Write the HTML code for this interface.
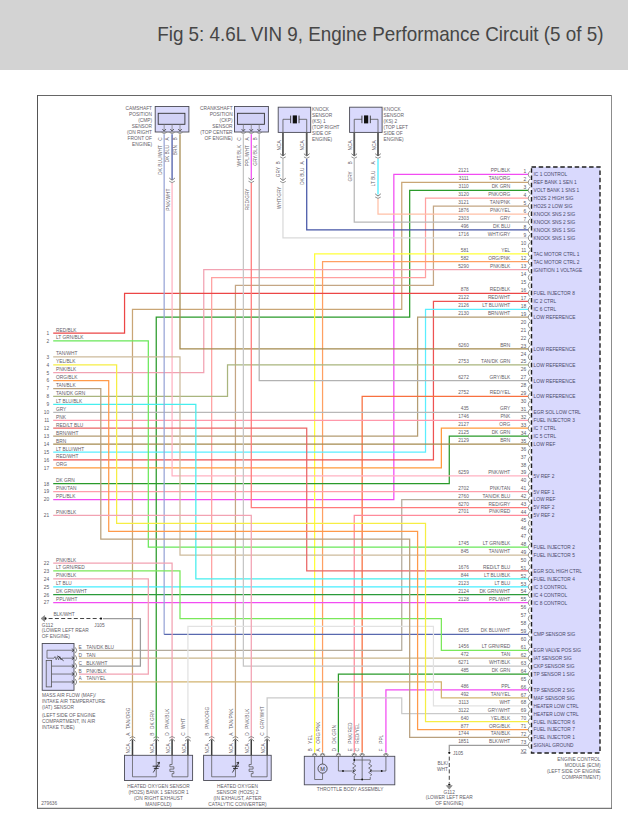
<!DOCTYPE html>
<html><head><meta charset="utf-8"><title>Fig 5: 4.6L VIN 9, Engine Performance Circuit (5 of 5)</title>
<style>html,body{margin:0;padding:0;background:#fff;width:628px;height:820px;overflow:hidden}
svg{display:block;font-family:"Liberation Sans",Arial,sans-serif}</style></head>
<body>
<svg width="628" height="820" viewBox="0 0 628 820">
<rect x="0" y="0" width="628" height="820" fill="#ffffff"/>
<rect x="0" y="0" width="628" height="70" fill="#d3d3d3"/>
<text x="157.2" y="41" font-size="20.4" fill="#464646" textLength="446.3" lengthAdjust="spacingAndGlyphs" font-family="Liberation Sans, sans-serif">Fig 5: 4.6L VIN 9, Engine Performance Circuit (5 of 5)</text>
<path d="M37.5,95.5 H611.5" stroke="#666" stroke-width="1"/>
<path d="M37.5,95 V808.5" stroke="#555" stroke-width="1"/>
<path d="M611.5,95 V808.5" stroke="#8c8c8c" stroke-width="1"/>
<path d="M37,808.3 H612" stroke="#555" stroke-width="1"/>
<rect x="531.5" y="167" width="68.5" height="586" fill="#d9d9fd" stroke="#1e1e1e" stroke-width="1.4" stroke-dasharray="4.5,2.7"/>
<g fill="none" stroke-width="1.25" stroke-linejoin="miter">
<polyline points="528,174.45 393.84,174.45 393.84,499.58 53.2,499.58" stroke="#f24cf2"/>
<polyline points="528,182.38 401.76,182.38 401.76,309.26 132.48,309.26 132.48,738.7" stroke="#c9a676"/>
<polyline points="528,190.31 409.68,190.31 409.68,317.19 156.24,317.19 156.24,738.7" stroke="#2a9a2a"/>
<polyline points="528,198.24 425.52,198.24 425.52,277.54 211.68,277.54 211.68,738.7" stroke="#ffa0a0"/>
<polyline points="528,206.17 433.44,206.17 433.44,285.47 235.44,285.47 235.44,738.7" stroke="#c4a684"/>
<polyline points="528,214.1 378,214.1 378,198.6" stroke="#ffc0a6"/>
<polyline points="378,194.5 378,158.8" stroke="#46eeff"/>
<polyline points="528,222.03 354.24,222.03 354.24,158.8" stroke="#b8b8b8"/>
<polyline points="528,229.96 306.72,229.96 306.72,158.8" stroke="#4656a6"/>
<polyline points="528,237.89 282.96,237.89 282.96,183.2" stroke="#dadada"/>
<polyline points="282.96,180.5 282.96,158.8" stroke="#b8b8b8"/>
<polyline points="528,253.75 314.64,253.75 314.64,752.5" stroke="#ffff3a"/>
<polyline points="528,261.68 322.56,261.68 322.56,752.5" stroke="#ffa062"/>
<polyline points="528,269.61 203.76,269.61 203.76,372.7 53.2,372.7" stroke="#f2a2b2"/>
<polyline points="528,293.4 124.56,293.4 124.56,333.05 53.2,333.05" stroke="#ec4646"/>
<polyline points="528,301.33 433.44,301.33 433.44,459.93 53.2,459.93" stroke="#ee5252"/>
<polyline points="528,309.26 425.52,309.26 425.52,452 53.2,452" stroke="#5aeeff"/>
<polyline points="528,317.19 417.6,317.19 417.6,436.14 53.2,436.14" stroke="#b49c72"/>
<polyline points="528,348.91 180,348.91 180,134.2" stroke="#a48a4e"/>
<polyline points="528,364.77 227.52,364.77 227.52,396.49 53.2,396.49" stroke="#a9b57e"/>
<polyline points="528,380.63 259.2,380.63 259.2,134.2" stroke="#b2b2b2"/>
<polyline points="528,396.49 362.16,396.49 362.16,752.5" stroke="#f8703f"/>
<polyline points="528,412.35 53.2,412.35" stroke="#b8b8b8"/>
<polyline points="528,420.28 53.2,420.28" stroke="#ff98aa"/>
<polyline points="528,428.21 441.36,428.21 441.36,467.86 53.2,467.86" stroke="#ff9a3c"/>
<polyline points="528,436.14 449.28,436.14 449.28,483.72 53.2,483.72" stroke="#2a9a2a"/>
<polyline points="528,444.07 53.2,444.07" stroke="#a48a4e"/>
<polyline points="528,475.79 172.08,475.79 172.08,182.4" stroke="#ffb2c2"/>
<polyline points="172.08,179.8 172.08,134.2" stroke="#4656a6"/>
<polyline points="528,491.65 53.2,491.65" stroke="#ff9eac"/>
<polyline points="528,499.58 401.76,499.58 401.76,650.25 79,650.25" stroke="#b3ab9c"/>
<polyline points="528,507.51 251.28,507.51 251.28,182.4" stroke="#ff7a7a"/>
<polyline points="251.28,179.8 251.28,134.2" stroke="#f24cf2"/>
<polyline points="528,515.44 354.24,515.44 354.24,752.5" stroke="#ff8a9a"/>
<polyline points="528,547.16 148.32,547.16 148.32,340.98 53.2,340.98" stroke="#6ae85a"/>
<polyline points="528,555.09 180,555.09 180,356.84 53.2,356.84" stroke="#cdbb9c"/>
<polyline points="528,570.95 306.72,570.95 306.72,428.21 53.2,428.21" stroke="#ea6666"/>
<polyline points="528,578.88 195.84,578.88 195.84,404.42 53.2,404.42" stroke="#46eeee"/>
<polyline points="528,586.81 53.2,586.81" stroke="#46eeff"/>
<polyline points="528,594.74 53.2,594.74" stroke="#2a9a3a"/>
<polyline points="528,602.67 53.2,602.67" stroke="#f24cf2"/>
<polyline points="164.16,634.39 164.16,134.2" stroke="#98a4d6"/>
<polyline points="528,634.39 164.16,634.39" stroke="#5868ae"/>
<polyline points="528,650.25 441.36,650.25 441.36,618.53 180,618.53 180,570.95 53.2,570.95" stroke="#7ae85a"/>
<polyline points="528,658.18 79,658.18" stroke="#cab68c"/>
<polyline points="528,666.11 243.36,666.11 243.36,134.2" stroke="#c6c6c6"/>
<polyline points="528,674.04 338.4,674.04 338.4,752.5" stroke="#2a9a2a"/>
<polyline points="528,689.9 385.92,689.9 385.92,752.5" stroke="#f24cf2"/>
<polyline points="528,697.83 441.36,697.83 441.36,681.97 79,681.97" stroke="#d2b470"/>
<polyline points="528,705.76 433.44,705.76 433.44,626.46 187.92,626.46 187.92,738.7" stroke="#e2e2e2"/>
<polyline points="528,713.69 401.76,713.69 401.76,697.83 267.12,697.83 267.12,738.7" stroke="#cacaca"/>
<polyline points="528,721.62 425.52,721.62 425.52,523.37 116.64,523.37 116.64,364.77 53.2,364.77" stroke="#f6ee44"/>
<polyline points="528,729.55 417.6,729.55 417.6,531.3 108.72,531.3 108.72,380.63 53.2,380.63" stroke="#ff9a4a"/>
<polyline points="528,737.48 409.68,737.48 409.68,539.23 100.8,539.23 100.8,388.56 53.2,388.56" stroke="#b8a07e"/>
<polyline points="528,745.41 449.28,745.41 449.28,751.5" stroke="#9c9c9c"/>
<polyline points="53.2,515.44 251.28,515.44 251.28,738.7" stroke="#f2a2b2"/>
<polyline points="53.2,563.02 172.08,563.02 172.08,738.7" stroke="#f2a2b2"/>
<polyline points="53.2,578.88 148.32,578.88 148.32,674.04 79,674.04" stroke="#f2a2b2"/>
<polyline points="103,618.53 140.4,618.53 140.4,666.11 79,666.11" stroke="#9c9c9c"/>
</g>
<g fill="none" stroke="#767676" stroke-width="0.8">
<path d="M530.2,171.05 Q526.4,174.45 530.2,177.85"/>
<path d="M530.2,178.98 Q526.4,182.38 530.2,185.78"/>
<path d="M530.2,186.91 Q526.4,190.31 530.2,193.71"/>
<path d="M530.2,194.84 Q526.4,198.24 530.2,201.64"/>
<path d="M530.2,202.77 Q526.4,206.17 530.2,209.57"/>
<path d="M530.2,210.7 Q526.4,214.1 530.2,217.5"/>
<path d="M530.2,218.63 Q526.4,222.03 530.2,225.43"/>
<path d="M530.2,226.56 Q526.4,229.96 530.2,233.36"/>
<path d="M530.2,234.49 Q526.4,237.89 530.2,241.29"/>
<path d="M530.2,242.42 Q526.4,245.82 530.2,249.22"/>
<path d="M530.2,250.35 Q526.4,253.75 530.2,257.15"/>
<path d="M530.2,258.28 Q526.4,261.68 530.2,265.08"/>
<path d="M530.2,266.21 Q526.4,269.61 530.2,273.01"/>
<path d="M530.2,274.14 Q526.4,277.54 530.2,280.94"/>
<path d="M530.2,282.07 Q526.4,285.47 530.2,288.87"/>
<path d="M530.2,290 Q526.4,293.4 530.2,296.8"/>
<path d="M530.2,297.93 Q526.4,301.33 530.2,304.73"/>
<path d="M530.2,305.86 Q526.4,309.26 530.2,312.66"/>
<path d="M530.2,313.79 Q526.4,317.19 530.2,320.59"/>
<path d="M530.2,321.72 Q526.4,325.12 530.2,328.52"/>
<path d="M530.2,329.65 Q526.4,333.05 530.2,336.45"/>
<path d="M530.2,337.58 Q526.4,340.98 530.2,344.38"/>
<path d="M530.2,345.51 Q526.4,348.91 530.2,352.31"/>
<path d="M530.2,353.44 Q526.4,356.84 530.2,360.24"/>
<path d="M530.2,361.37 Q526.4,364.77 530.2,368.17"/>
<path d="M530.2,369.3 Q526.4,372.7 530.2,376.1"/>
<path d="M530.2,377.23 Q526.4,380.63 530.2,384.03"/>
<path d="M530.2,385.16 Q526.4,388.56 530.2,391.96"/>
<path d="M530.2,393.09 Q526.4,396.49 530.2,399.89"/>
<path d="M530.2,401.02 Q526.4,404.42 530.2,407.82"/>
<path d="M530.2,408.95 Q526.4,412.35 530.2,415.75"/>
<path d="M530.2,416.88 Q526.4,420.28 530.2,423.68"/>
<path d="M530.2,424.81 Q526.4,428.21 530.2,431.61"/>
<path d="M530.2,432.74 Q526.4,436.14 530.2,439.54"/>
<path d="M530.2,440.67 Q526.4,444.07 530.2,447.47"/>
<path d="M530.2,448.6 Q526.4,452 530.2,455.4"/>
<path d="M530.2,456.53 Q526.4,459.93 530.2,463.33"/>
<path d="M530.2,464.46 Q526.4,467.86 530.2,471.26"/>
<path d="M530.2,472.39 Q526.4,475.79 530.2,479.19"/>
<path d="M530.2,480.32 Q526.4,483.72 530.2,487.12"/>
<path d="M530.2,488.25 Q526.4,491.65 530.2,495.05"/>
<path d="M530.2,496.18 Q526.4,499.58 530.2,502.98"/>
<path d="M530.2,504.11 Q526.4,507.51 530.2,510.91"/>
<path d="M530.2,512.04 Q526.4,515.44 530.2,518.84"/>
<path d="M530.2,519.97 Q526.4,523.37 530.2,526.77"/>
<path d="M530.2,527.9 Q526.4,531.3 530.2,534.7"/>
<path d="M530.2,535.83 Q526.4,539.23 530.2,542.63"/>
<path d="M530.2,543.76 Q526.4,547.16 530.2,550.56"/>
<path d="M530.2,551.69 Q526.4,555.09 530.2,558.49"/>
<path d="M530.2,559.62 Q526.4,563.02 530.2,566.42"/>
<path d="M530.2,567.55 Q526.4,570.95 530.2,574.35"/>
<path d="M530.2,575.48 Q526.4,578.88 530.2,582.28"/>
<path d="M530.2,583.41 Q526.4,586.81 530.2,590.21"/>
<path d="M530.2,591.34 Q526.4,594.74 530.2,598.14"/>
<path d="M530.2,599.27 Q526.4,602.67 530.2,606.07"/>
<path d="M530.2,607.2 Q526.4,610.6 530.2,614"/>
<path d="M530.2,615.13 Q526.4,618.53 530.2,621.93"/>
<path d="M530.2,623.06 Q526.4,626.46 530.2,629.86"/>
<path d="M530.2,630.99 Q526.4,634.39 530.2,637.79"/>
<path d="M530.2,638.92 Q526.4,642.32 530.2,645.72"/>
<path d="M530.2,646.85 Q526.4,650.25 530.2,653.65"/>
<path d="M530.2,654.78 Q526.4,658.18 530.2,661.58"/>
<path d="M530.2,662.71 Q526.4,666.11 530.2,669.51"/>
<path d="M530.2,670.64 Q526.4,674.04 530.2,677.44"/>
<path d="M530.2,678.57 Q526.4,681.97 530.2,685.37"/>
<path d="M530.2,686.5 Q526.4,689.9 530.2,693.3"/>
<path d="M530.2,694.43 Q526.4,697.83 530.2,701.23"/>
<path d="M530.2,702.36 Q526.4,705.76 530.2,709.16"/>
<path d="M530.2,710.29 Q526.4,713.69 530.2,717.09"/>
<path d="M530.2,718.22 Q526.4,721.62 530.2,725.02"/>
<path d="M530.2,726.15 Q526.4,729.55 530.2,732.95"/>
<path d="M530.2,734.08 Q526.4,737.48 530.2,740.88"/>
<path d="M530.2,742.01 Q526.4,745.41 530.2,748.81"/>
</g>
<g font-family="Liberation Sans, sans-serif">
<text x="526.3" y="173.15" font-size="4.9" text-anchor="end" fill="#5a5a66">1</text>
<text x="468.8" y="172.45" font-size="4.8" text-anchor="end" fill="#646068">2121</text>
<text x="510.3" y="172.45" font-size="4.8" text-anchor="end" fill="#646068">PPL/BLK</text>
<text x="533.5" y="176.35" font-size="4.8" text-anchor="start" fill="#4a4a6a">IC 1 CONTROL</text>
<text x="526.3" y="181.08" font-size="4.9" text-anchor="end" fill="#5a5a66">2</text>
<text x="468.8" y="180.38" font-size="4.8" text-anchor="end" fill="#646068">3111</text>
<text x="510.3" y="180.38" font-size="4.8" text-anchor="end" fill="#646068">TAN/ORG</text>
<text x="533.5" y="184.28" font-size="4.8" text-anchor="start" fill="#4a4a6a">REF BANK 1 SEN 1</text>
<text x="526.3" y="189.01" font-size="4.9" text-anchor="end" fill="#5a5a66">3</text>
<text x="468.8" y="188.31" font-size="4.8" text-anchor="end" fill="#646068">3110</text>
<text x="510.3" y="188.31" font-size="4.8" text-anchor="end" fill="#646068">DK GRN</text>
<text x="533.5" y="192.21" font-size="4.8" text-anchor="start" fill="#4a4a6a">VOLT BANK 1 SNS 1</text>
<text x="526.3" y="196.94" font-size="4.9" text-anchor="end" fill="#5a5a66">4</text>
<text x="468.8" y="196.24" font-size="4.8" text-anchor="end" fill="#646068">3120</text>
<text x="510.3" y="196.24" font-size="4.8" text-anchor="end" fill="#646068">PNK/ORG</text>
<text x="533.5" y="200.14" font-size="4.8" text-anchor="start" fill="#4a4a6a">HO2S 2 HIGH SIG</text>
<text x="526.3" y="204.87" font-size="4.9" text-anchor="end" fill="#5a5a66">5</text>
<text x="468.8" y="204.17" font-size="4.8" text-anchor="end" fill="#646068">3121</text>
<text x="510.3" y="204.17" font-size="4.8" text-anchor="end" fill="#646068">TAN/PNK</text>
<text x="533.5" y="208.07" font-size="4.8" text-anchor="start" fill="#4a4a6a">HO2S 2 LOW SIG</text>
<text x="526.3" y="212.8" font-size="4.9" text-anchor="end" fill="#5a5a66">6</text>
<text x="468.8" y="212.1" font-size="4.8" text-anchor="end" fill="#646068">1876</text>
<text x="510.3" y="212.1" font-size="4.8" text-anchor="end" fill="#646068">PNK/YEL</text>
<text x="533.5" y="216" font-size="4.8" text-anchor="start" fill="#4a4a6a">KNOCK SNS 2 SIG</text>
<text x="526.3" y="220.73" font-size="4.9" text-anchor="end" fill="#5a5a66">7</text>
<text x="468.8" y="220.03" font-size="4.8" text-anchor="end" fill="#646068">2303</text>
<text x="510.3" y="220.03" font-size="4.8" text-anchor="end" fill="#646068">GRY</text>
<text x="533.5" y="223.93" font-size="4.8" text-anchor="start" fill="#4a4a6a">KNOCK SNS 2 SIG</text>
<text x="526.3" y="228.66" font-size="4.9" text-anchor="end" fill="#5a5a66">8</text>
<text x="468.8" y="227.96" font-size="4.8" text-anchor="end" fill="#646068">496</text>
<text x="510.3" y="227.96" font-size="4.8" text-anchor="end" fill="#646068">DK BLU</text>
<text x="533.5" y="231.86" font-size="4.8" text-anchor="start" fill="#4a4a6a">KNOCK SNS 1 SIG</text>
<text x="526.3" y="236.59" font-size="4.9" text-anchor="end" fill="#5a5a66">9</text>
<text x="468.8" y="235.89" font-size="4.8" text-anchor="end" fill="#646068">1716</text>
<text x="510.3" y="235.89" font-size="4.8" text-anchor="end" fill="#646068">WHT/GRY</text>
<text x="533.5" y="239.79" font-size="4.8" text-anchor="start" fill="#4a4a6a">KNOCK SNS 1 SIG</text>
<text x="526.3" y="244.52" font-size="4.9" text-anchor="end" fill="#5a5a66">10</text>
<text x="526.3" y="252.45" font-size="4.9" text-anchor="end" fill="#5a5a66">11</text>
<text x="468.8" y="251.75" font-size="4.8" text-anchor="end" fill="#646068">581</text>
<text x="510.3" y="251.75" font-size="4.8" text-anchor="end" fill="#646068">YEL</text>
<text x="533.5" y="255.65" font-size="4.8" text-anchor="start" fill="#4a4a6a">TAC MOTOR CTRL 1</text>
<text x="526.3" y="260.38" font-size="4.9" text-anchor="end" fill="#5a5a66">12</text>
<text x="468.8" y="259.68" font-size="4.8" text-anchor="end" fill="#646068">582</text>
<text x="510.3" y="259.68" font-size="4.8" text-anchor="end" fill="#646068">ORG/PNK</text>
<text x="533.5" y="263.58" font-size="4.8" text-anchor="start" fill="#4a4a6a">TAC MOTOR CTRL 2</text>
<text x="526.3" y="268.31" font-size="4.9" text-anchor="end" fill="#5a5a66">13</text>
<text x="468.8" y="267.61" font-size="4.8" text-anchor="end" fill="#646068">5290</text>
<text x="510.3" y="267.61" font-size="4.8" text-anchor="end" fill="#646068">PNK/BLK</text>
<text x="533.5" y="271.51" font-size="4.8" text-anchor="start" fill="#4a4a6a">IGNITION 1 VOLTAGE</text>
<text x="526.3" y="276.24" font-size="4.9" text-anchor="end" fill="#5a5a66">14</text>
<text x="526.3" y="284.17" font-size="4.9" text-anchor="end" fill="#5a5a66">15</text>
<text x="526.3" y="292.1" font-size="4.9" text-anchor="end" fill="#5a5a66">16</text>
<text x="468.8" y="291.4" font-size="4.8" text-anchor="end" fill="#646068">878</text>
<text x="510.3" y="291.4" font-size="4.8" text-anchor="end" fill="#646068">RED/BLK</text>
<text x="533.5" y="295.3" font-size="4.8" text-anchor="start" fill="#4a4a6a">FUEL INJECTOR 8</text>
<text x="526.3" y="300.03" font-size="4.9" text-anchor="end" fill="#5a5a66">17</text>
<text x="468.8" y="299.33" font-size="4.8" text-anchor="end" fill="#646068">2122</text>
<text x="510.3" y="299.33" font-size="4.8" text-anchor="end" fill="#646068">RED/WHT</text>
<text x="533.5" y="303.23" font-size="4.8" text-anchor="start" fill="#4a4a6a">IC 2 CTRL</text>
<text x="526.3" y="307.96" font-size="4.9" text-anchor="end" fill="#5a5a66">18</text>
<text x="468.8" y="307.26" font-size="4.8" text-anchor="end" fill="#646068">2126</text>
<text x="510.3" y="307.26" font-size="4.8" text-anchor="end" fill="#646068">LT BLU/WHT</text>
<text x="533.5" y="311.16" font-size="4.8" text-anchor="start" fill="#4a4a6a">IC 6 CTRL</text>
<text x="526.3" y="315.89" font-size="4.9" text-anchor="end" fill="#5a5a66">19</text>
<text x="468.8" y="315.19" font-size="4.8" text-anchor="end" fill="#646068">2130</text>
<text x="510.3" y="315.19" font-size="4.8" text-anchor="end" fill="#646068">BRN/WHT</text>
<text x="533.5" y="319.09" font-size="4.8" text-anchor="start" fill="#4a4a6a">LOW REFERENCE</text>
<text x="526.3" y="323.82" font-size="4.9" text-anchor="end" fill="#5a5a66">20</text>
<text x="526.3" y="331.75" font-size="4.9" text-anchor="end" fill="#5a5a66">21</text>
<text x="526.3" y="339.68" font-size="4.9" text-anchor="end" fill="#5a5a66">22</text>
<text x="526.3" y="347.61" font-size="4.9" text-anchor="end" fill="#5a5a66">23</text>
<text x="468.8" y="346.91" font-size="4.8" text-anchor="end" fill="#646068">6260</text>
<text x="510.3" y="346.91" font-size="4.8" text-anchor="end" fill="#646068">BRN</text>
<text x="533.5" y="350.81" font-size="4.8" text-anchor="start" fill="#4a4a6a">LOW REFERENCE</text>
<text x="526.3" y="355.54" font-size="4.9" text-anchor="end" fill="#5a5a66">24</text>
<text x="526.3" y="363.47" font-size="4.9" text-anchor="end" fill="#5a5a66">25</text>
<text x="468.8" y="362.77" font-size="4.8" text-anchor="end" fill="#646068">2753</text>
<text x="510.3" y="362.77" font-size="4.8" text-anchor="end" fill="#646068">TAN/DK GRN</text>
<text x="533.5" y="366.67" font-size="4.8" text-anchor="start" fill="#4a4a6a">LOW REFERENCE</text>
<text x="526.3" y="371.4" font-size="4.9" text-anchor="end" fill="#5a5a66">26</text>
<text x="526.3" y="379.33" font-size="4.9" text-anchor="end" fill="#5a5a66">27</text>
<text x="468.8" y="378.63" font-size="4.8" text-anchor="end" fill="#646068">6272</text>
<text x="510.3" y="378.63" font-size="4.8" text-anchor="end" fill="#646068">GRY/BLK</text>
<text x="533.5" y="382.53" font-size="4.8" text-anchor="start" fill="#4a4a6a">LOW REFERENCE</text>
<text x="526.3" y="387.26" font-size="4.9" text-anchor="end" fill="#5a5a66">28</text>
<text x="526.3" y="395.19" font-size="4.9" text-anchor="end" fill="#5a5a66">29</text>
<text x="468.8" y="394.49" font-size="4.8" text-anchor="end" fill="#646068">2752</text>
<text x="510.3" y="394.49" font-size="4.8" text-anchor="end" fill="#646068">RED/YEL</text>
<text x="533.5" y="398.39" font-size="4.8" text-anchor="start" fill="#4a4a6a">LOW REFERENCE</text>
<text x="526.3" y="403.12" font-size="4.9" text-anchor="end" fill="#5a5a66">30</text>
<text x="526.3" y="411.05" font-size="4.9" text-anchor="end" fill="#5a5a66">31</text>
<text x="468.8" y="410.35" font-size="4.8" text-anchor="end" fill="#646068">435</text>
<text x="510.3" y="410.35" font-size="4.8" text-anchor="end" fill="#646068">GRY</text>
<text x="533.5" y="414.25" font-size="4.8" text-anchor="start" fill="#4a4a6a">EGR SOL LOW CTRL</text>
<text x="526.3" y="418.98" font-size="4.9" text-anchor="end" fill="#5a5a66">32</text>
<text x="468.8" y="418.28" font-size="4.8" text-anchor="end" fill="#646068">1746</text>
<text x="510.3" y="418.28" font-size="4.8" text-anchor="end" fill="#646068">PNK</text>
<text x="533.5" y="422.18" font-size="4.8" text-anchor="start" fill="#4a4a6a">FUEL INJECTOR 3</text>
<text x="526.3" y="426.91" font-size="4.9" text-anchor="end" fill="#5a5a66">33</text>
<text x="468.8" y="426.21" font-size="4.8" text-anchor="end" fill="#646068">2127</text>
<text x="510.3" y="426.21" font-size="4.8" text-anchor="end" fill="#646068">ORG</text>
<text x="533.5" y="430.11" font-size="4.8" text-anchor="start" fill="#4a4a6a">IC 7 CTRL</text>
<text x="526.3" y="434.84" font-size="4.9" text-anchor="end" fill="#5a5a66">34</text>
<text x="468.8" y="434.14" font-size="4.8" text-anchor="end" fill="#646068">2125</text>
<text x="510.3" y="434.14" font-size="4.8" text-anchor="end" fill="#646068">DK GRN</text>
<text x="533.5" y="438.04" font-size="4.8" text-anchor="start" fill="#4a4a6a">IC 5 CTRL</text>
<text x="526.3" y="442.77" font-size="4.9" text-anchor="end" fill="#5a5a66">35</text>
<text x="468.8" y="442.07" font-size="4.8" text-anchor="end" fill="#646068">2129</text>
<text x="510.3" y="442.07" font-size="4.8" text-anchor="end" fill="#646068">BRN</text>
<text x="533.5" y="445.97" font-size="4.8" text-anchor="start" fill="#4a4a6a">LOW REF</text>
<text x="526.3" y="450.7" font-size="4.9" text-anchor="end" fill="#5a5a66">36</text>
<text x="526.3" y="458.63" font-size="4.9" text-anchor="end" fill="#5a5a66">37</text>
<text x="526.3" y="466.56" font-size="4.9" text-anchor="end" fill="#5a5a66">38</text>
<text x="526.3" y="474.49" font-size="4.9" text-anchor="end" fill="#5a5a66">39</text>
<text x="468.8" y="473.79" font-size="4.8" text-anchor="end" fill="#646068">6259</text>
<text x="510.3" y="473.79" font-size="4.8" text-anchor="end" fill="#646068">PNK/WHT</text>
<text x="533.5" y="477.69" font-size="4.8" text-anchor="start" fill="#4a4a6a">5V REF 2</text>
<text x="526.3" y="482.42" font-size="4.9" text-anchor="end" fill="#5a5a66">40</text>
<text x="526.3" y="490.35" font-size="4.9" text-anchor="end" fill="#5a5a66">41</text>
<text x="468.8" y="489.65" font-size="4.8" text-anchor="end" fill="#646068">2702</text>
<text x="510.3" y="489.65" font-size="4.8" text-anchor="end" fill="#646068">PNK/TAN</text>
<text x="533.5" y="493.55" font-size="4.8" text-anchor="start" fill="#4a4a6a">5V REF 1</text>
<text x="526.3" y="498.28" font-size="4.9" text-anchor="end" fill="#5a5a66">42</text>
<text x="468.8" y="497.58" font-size="4.8" text-anchor="end" fill="#646068">2760</text>
<text x="510.3" y="497.58" font-size="4.8" text-anchor="end" fill="#646068">TAN/DK BLU</text>
<text x="533.5" y="501.48" font-size="4.8" text-anchor="start" fill="#4a4a6a">LOW REF</text>
<text x="526.3" y="506.21" font-size="4.9" text-anchor="end" fill="#5a5a66">43</text>
<text x="468.8" y="505.51" font-size="4.8" text-anchor="end" fill="#646068">6270</text>
<text x="510.3" y="505.51" font-size="4.8" text-anchor="end" fill="#646068">RED/GRY</text>
<text x="533.5" y="509.41" font-size="4.8" text-anchor="start" fill="#4a4a6a">5V REF 2</text>
<text x="526.3" y="514.14" font-size="4.9" text-anchor="end" fill="#5a5a66">44</text>
<text x="468.8" y="513.44" font-size="4.8" text-anchor="end" fill="#646068">2701</text>
<text x="510.3" y="513.44" font-size="4.8" text-anchor="end" fill="#646068">PNK/RED</text>
<text x="533.5" y="517.34" font-size="4.8" text-anchor="start" fill="#4a4a6a">5V REF 2</text>
<text x="526.3" y="522.07" font-size="4.9" text-anchor="end" fill="#5a5a66">45</text>
<text x="526.3" y="530" font-size="4.9" text-anchor="end" fill="#5a5a66">46</text>
<text x="526.3" y="537.93" font-size="4.9" text-anchor="end" fill="#5a5a66">47</text>
<text x="526.3" y="545.86" font-size="4.9" text-anchor="end" fill="#5a5a66">48</text>
<text x="468.8" y="545.16" font-size="4.8" text-anchor="end" fill="#646068">1745</text>
<text x="510.3" y="545.16" font-size="4.8" text-anchor="end" fill="#646068">LT GRN/BLK</text>
<text x="533.5" y="549.06" font-size="4.8" text-anchor="start" fill="#4a4a6a">FUEL INJECTOR 2</text>
<text x="526.3" y="553.79" font-size="4.9" text-anchor="end" fill="#5a5a66">49</text>
<text x="468.8" y="553.09" font-size="4.8" text-anchor="end" fill="#646068">845</text>
<text x="510.3" y="553.09" font-size="4.8" text-anchor="end" fill="#646068">TAN/WHT</text>
<text x="533.5" y="556.99" font-size="4.8" text-anchor="start" fill="#4a4a6a">FUEL INJECTOR 5</text>
<text x="526.3" y="561.72" font-size="4.9" text-anchor="end" fill="#5a5a66">50</text>
<text x="526.3" y="569.65" font-size="4.9" text-anchor="end" fill="#5a5a66">51</text>
<text x="468.8" y="568.95" font-size="4.8" text-anchor="end" fill="#646068">1676</text>
<text x="510.3" y="568.95" font-size="4.8" text-anchor="end" fill="#646068">RED/LT BLU</text>
<text x="533.5" y="572.85" font-size="4.8" text-anchor="start" fill="#4a4a6a">EGR SOL HIGH CTRL</text>
<text x="526.3" y="577.58" font-size="4.9" text-anchor="end" fill="#5a5a66">52</text>
<text x="468.8" y="576.88" font-size="4.8" text-anchor="end" fill="#646068">844</text>
<text x="510.3" y="576.88" font-size="4.8" text-anchor="end" fill="#646068">LT BLU/BLK</text>
<text x="533.5" y="580.78" font-size="4.8" text-anchor="start" fill="#4a4a6a">FUEL INJECTOR 4</text>
<text x="526.3" y="585.51" font-size="4.9" text-anchor="end" fill="#5a5a66">53</text>
<text x="468.8" y="584.81" font-size="4.8" text-anchor="end" fill="#646068">2123</text>
<text x="510.3" y="584.81" font-size="4.8" text-anchor="end" fill="#646068">LT BLU</text>
<text x="533.5" y="588.71" font-size="4.8" text-anchor="start" fill="#4a4a6a">IC 3 CONTROL</text>
<text x="526.3" y="593.44" font-size="4.9" text-anchor="end" fill="#5a5a66">54</text>
<text x="468.8" y="592.74" font-size="4.8" text-anchor="end" fill="#646068">2124</text>
<text x="510.3" y="592.74" font-size="4.8" text-anchor="end" fill="#646068">DK GRN/WHT</text>
<text x="533.5" y="596.64" font-size="4.8" text-anchor="start" fill="#4a4a6a">IC 4 CONTROL</text>
<text x="526.3" y="601.37" font-size="4.9" text-anchor="end" fill="#5a5a66">55</text>
<text x="468.8" y="600.67" font-size="4.8" text-anchor="end" fill="#646068">2128</text>
<text x="510.3" y="600.67" font-size="4.8" text-anchor="end" fill="#646068">PPL/WHT</text>
<text x="533.5" y="604.57" font-size="4.8" text-anchor="start" fill="#4a4a6a">IC 8 CONTROL</text>
<text x="526.3" y="609.3" font-size="4.9" text-anchor="end" fill="#5a5a66">56</text>
<text x="526.3" y="617.23" font-size="4.9" text-anchor="end" fill="#5a5a66">57</text>
<text x="526.3" y="625.16" font-size="4.9" text-anchor="end" fill="#5a5a66">58</text>
<text x="526.3" y="633.09" font-size="4.9" text-anchor="end" fill="#5a5a66">59</text>
<text x="468.8" y="632.39" font-size="4.8" text-anchor="end" fill="#646068">6265</text>
<text x="510.3" y="632.39" font-size="4.8" text-anchor="end" fill="#646068">DK BLU/WHT</text>
<text x="533.5" y="636.29" font-size="4.8" text-anchor="start" fill="#4a4a6a">CMP SENSOR SIG</text>
<text x="526.3" y="641.02" font-size="4.9" text-anchor="end" fill="#5a5a66">60</text>
<text x="526.3" y="648.95" font-size="4.9" text-anchor="end" fill="#5a5a66">61</text>
<text x="468.8" y="648.25" font-size="4.8" text-anchor="end" fill="#646068">1456</text>
<text x="510.3" y="648.25" font-size="4.8" text-anchor="end" fill="#646068">LT GRN/RED</text>
<text x="533.5" y="652.15" font-size="4.8" text-anchor="start" fill="#4a4a6a">EGR VALVE POS SIG</text>
<text x="526.3" y="656.88" font-size="4.9" text-anchor="end" fill="#5a5a66">62</text>
<text x="468.8" y="656.18" font-size="4.8" text-anchor="end" fill="#646068">472</text>
<text x="510.3" y="656.18" font-size="4.8" text-anchor="end" fill="#646068">TAN</text>
<text x="533.5" y="660.08" font-size="4.8" text-anchor="start" fill="#4a4a6a">IAT SENSOR SIG</text>
<text x="526.3" y="664.81" font-size="4.9" text-anchor="end" fill="#5a5a66">63</text>
<text x="468.8" y="664.11" font-size="4.8" text-anchor="end" fill="#646068">6271</text>
<text x="510.3" y="664.11" font-size="4.8" text-anchor="end" fill="#646068">WHT/BLK</text>
<text x="533.5" y="668.01" font-size="4.8" text-anchor="start" fill="#4a4a6a">CKP SENSOR SIG</text>
<text x="526.3" y="672.74" font-size="4.9" text-anchor="end" fill="#5a5a66">64</text>
<text x="468.8" y="672.04" font-size="4.8" text-anchor="end" fill="#646068">485</text>
<text x="510.3" y="672.04" font-size="4.8" text-anchor="end" fill="#646068">DK GRN</text>
<text x="533.5" y="675.94" font-size="4.8" text-anchor="start" fill="#4a4a6a">TP SENSOR 1 SIG</text>
<text x="526.3" y="680.67" font-size="4.9" text-anchor="end" fill="#5a5a66">65</text>
<text x="526.3" y="688.6" font-size="4.9" text-anchor="end" fill="#5a5a66">66</text>
<text x="468.8" y="687.9" font-size="4.8" text-anchor="end" fill="#646068">486</text>
<text x="510.3" y="687.9" font-size="4.8" text-anchor="end" fill="#646068">PPL</text>
<text x="533.5" y="691.8" font-size="4.8" text-anchor="start" fill="#4a4a6a">TP SENSOR 2 SIG</text>
<text x="526.3" y="696.53" font-size="4.9" text-anchor="end" fill="#5a5a66">67</text>
<text x="468.8" y="695.83" font-size="4.8" text-anchor="end" fill="#646068">492</text>
<text x="510.3" y="695.83" font-size="4.8" text-anchor="end" fill="#646068">TAN/YEL</text>
<text x="533.5" y="699.73" font-size="4.8" text-anchor="start" fill="#4a4a6a">MAF SENSOR SIG</text>
<text x="526.3" y="704.46" font-size="4.9" text-anchor="end" fill="#5a5a66">68</text>
<text x="468.8" y="703.76" font-size="4.8" text-anchor="end" fill="#646068">3113</text>
<text x="510.3" y="703.76" font-size="4.8" text-anchor="end" fill="#646068">WHT</text>
<text x="533.5" y="707.66" font-size="4.8" text-anchor="start" fill="#4a4a6a">HEATER LOW CTRL</text>
<text x="526.3" y="712.39" font-size="4.9" text-anchor="end" fill="#5a5a66">69</text>
<text x="468.8" y="711.69" font-size="4.8" text-anchor="end" fill="#646068">3122</text>
<text x="510.3" y="711.69" font-size="4.8" text-anchor="end" fill="#646068">GRY/WHT</text>
<text x="533.5" y="715.59" font-size="4.8" text-anchor="start" fill="#4a4a6a">HEATER LOW CTRL</text>
<text x="526.3" y="720.32" font-size="4.9" text-anchor="end" fill="#5a5a66">70</text>
<text x="468.8" y="719.62" font-size="4.8" text-anchor="end" fill="#646068">640</text>
<text x="510.3" y="719.62" font-size="4.8" text-anchor="end" fill="#646068">YEL/BLK</text>
<text x="533.5" y="723.52" font-size="4.8" text-anchor="start" fill="#4a4a6a">FUEL INJECTOR 6</text>
<text x="526.3" y="728.25" font-size="4.9" text-anchor="end" fill="#5a5a66">71</text>
<text x="468.8" y="727.55" font-size="4.8" text-anchor="end" fill="#646068">877</text>
<text x="510.3" y="727.55" font-size="4.8" text-anchor="end" fill="#646068">ORG/BLK</text>
<text x="533.5" y="731.45" font-size="4.8" text-anchor="start" fill="#4a4a6a">FUEL INJECTOR 7</text>
<text x="526.3" y="736.18" font-size="4.9" text-anchor="end" fill="#5a5a66">72</text>
<text x="468.8" y="735.48" font-size="4.8" text-anchor="end" fill="#646068">1744</text>
<text x="510.3" y="735.48" font-size="4.8" text-anchor="end" fill="#646068">TAN/BLK</text>
<text x="533.5" y="739.38" font-size="4.8" text-anchor="start" fill="#4a4a6a">FUEL INJECTOR 1</text>
<text x="526.3" y="744.11" font-size="4.9" text-anchor="end" fill="#5a5a66">73</text>
<text x="468.8" y="743.41" font-size="4.8" text-anchor="end" fill="#646068">1851</text>
<text x="510.3" y="743.41" font-size="4.8" text-anchor="end" fill="#646068">BLK/WHT</text>
<text x="533.5" y="747.31" font-size="4.8" text-anchor="start" fill="#4a4a6a">SIGNAL GROUND</text>
<text x="526.5" y="752.5" font-size="4.8" text-anchor="end" fill="#5a5a66" text-decoration="underline">X2</text>
<text x="600.5" y="761" font-size="4.8" text-anchor="end" fill="#646068">ENGINE CONTROL</text>
<text x="600.5" y="766.9" font-size="4.8" text-anchor="end" fill="#646068">MODULE (ECM)</text>
<text x="600.5" y="772.8" font-size="4.8" text-anchor="end" fill="#646068">(LEFT SIDE OF ENGINE</text>
<text x="600.5" y="778.7" font-size="4.8" text-anchor="end" fill="#646068">COMPARTMENT)</text>
</g>
<g font-family="Liberation Sans, sans-serif">
<text x="49.2" y="334.85" font-size="4.8" text-anchor="end" fill="#5a5a66">1</text>
<text x="56" y="331.55" font-size="4.8" text-anchor="start" fill="#646068">RED/BLK</text>
<text x="49.2" y="342.78" font-size="4.8" text-anchor="end" fill="#5a5a66">2</text>
<text x="56" y="339.48" font-size="4.8" text-anchor="start" fill="#646068">LT GRN/BLK</text>
<text x="49.2" y="358.64" font-size="4.8" text-anchor="end" fill="#5a5a66">3</text>
<text x="56" y="355.34" font-size="4.8" text-anchor="start" fill="#646068">TAN/WHT</text>
<text x="49.2" y="366.57" font-size="4.8" text-anchor="end" fill="#5a5a66">4</text>
<text x="56" y="363.27" font-size="4.8" text-anchor="start" fill="#646068">YEL/BLK</text>
<text x="49.2" y="374.5" font-size="4.8" text-anchor="end" fill="#5a5a66">5</text>
<text x="56" y="371.2" font-size="4.8" text-anchor="start" fill="#646068">PNK/BLK</text>
<text x="49.2" y="382.43" font-size="4.8" text-anchor="end" fill="#5a5a66">6</text>
<text x="56" y="379.13" font-size="4.8" text-anchor="start" fill="#646068">ORG/BLK</text>
<text x="49.2" y="390.36" font-size="4.8" text-anchor="end" fill="#5a5a66">7</text>
<text x="56" y="387.06" font-size="4.8" text-anchor="start" fill="#646068">TAN/BLK</text>
<text x="49.2" y="398.29" font-size="4.8" text-anchor="end" fill="#5a5a66">8</text>
<text x="56" y="394.99" font-size="4.8" text-anchor="start" fill="#646068">TAN/DK GRN</text>
<text x="49.2" y="406.22" font-size="4.8" text-anchor="end" fill="#5a5a66">9</text>
<text x="56" y="402.92" font-size="4.8" text-anchor="start" fill="#646068">LT BLU/BLK</text>
<text x="49.2" y="414.15" font-size="4.8" text-anchor="end" fill="#5a5a66">10</text>
<text x="56" y="410.85" font-size="4.8" text-anchor="start" fill="#646068">GRY</text>
<text x="49.2" y="422.08" font-size="4.8" text-anchor="end" fill="#5a5a66">11</text>
<text x="56" y="418.78" font-size="4.8" text-anchor="start" fill="#646068">PNK</text>
<text x="49.2" y="430.01" font-size="4.8" text-anchor="end" fill="#5a5a66">12</text>
<text x="56" y="426.71" font-size="4.8" text-anchor="start" fill="#646068">RED/LT BLU</text>
<text x="49.2" y="437.94" font-size="4.8" text-anchor="end" fill="#5a5a66">13</text>
<text x="56" y="434.64" font-size="4.8" text-anchor="start" fill="#646068">BRN/WHT</text>
<text x="49.2" y="445.87" font-size="4.8" text-anchor="end" fill="#5a5a66">14</text>
<text x="56" y="442.57" font-size="4.8" text-anchor="start" fill="#646068">BRN</text>
<text x="49.2" y="453.8" font-size="4.8" text-anchor="end" fill="#5a5a66">15</text>
<text x="56" y="450.5" font-size="4.8" text-anchor="start" fill="#646068">LT BLU/WHT</text>
<text x="49.2" y="461.73" font-size="4.8" text-anchor="end" fill="#5a5a66">16</text>
<text x="56" y="458.43" font-size="4.8" text-anchor="start" fill="#646068">RED/WHT</text>
<text x="49.2" y="469.66" font-size="4.8" text-anchor="end" fill="#5a5a66">17</text>
<text x="56" y="466.36" font-size="4.8" text-anchor="start" fill="#646068">ORG</text>
<text x="49.2" y="485.52" font-size="4.8" text-anchor="end" fill="#5a5a66">18</text>
<text x="56" y="482.22" font-size="4.8" text-anchor="start" fill="#646068">DK GRN</text>
<text x="49.2" y="493.45" font-size="4.8" text-anchor="end" fill="#5a5a66">19</text>
<text x="56" y="490.15" font-size="4.8" text-anchor="start" fill="#646068">PNK/TAN</text>
<text x="49.2" y="501.38" font-size="4.8" text-anchor="end" fill="#5a5a66">20</text>
<text x="56" y="498.08" font-size="4.8" text-anchor="start" fill="#646068">PPL/BLK</text>
<text x="49.2" y="517.24" font-size="4.8" text-anchor="end" fill="#5a5a66">21</text>
<text x="56" y="513.94" font-size="4.8" text-anchor="start" fill="#646068">PNK/BLK</text>
<text x="49.2" y="564.82" font-size="4.8" text-anchor="end" fill="#5a5a66">22</text>
<text x="56" y="561.52" font-size="4.8" text-anchor="start" fill="#646068">PNK/BLK</text>
<text x="49.2" y="572.75" font-size="4.8" text-anchor="end" fill="#5a5a66">23</text>
<text x="56" y="569.45" font-size="4.8" text-anchor="start" fill="#646068">LT GRN/RED</text>
<text x="49.2" y="580.68" font-size="4.8" text-anchor="end" fill="#5a5a66">24</text>
<text x="56" y="577.38" font-size="4.8" text-anchor="start" fill="#646068">PNK/BLK</text>
<text x="49.2" y="588.61" font-size="4.8" text-anchor="end" fill="#5a5a66">25</text>
<text x="56" y="585.31" font-size="4.8" text-anchor="start" fill="#646068">LT BLU</text>
<text x="49.2" y="596.54" font-size="4.8" text-anchor="end" fill="#5a5a66">26</text>
<text x="56" y="593.24" font-size="4.8" text-anchor="start" fill="#646068">DK GRN/WHT</text>
<text x="49.2" y="604.47" font-size="4.8" text-anchor="end" fill="#5a5a66">27</text>
<text x="56" y="601.17" font-size="4.8" text-anchor="start" fill="#646068">PPL/WHT</text>
</g>
<g font-family="Liberation Sans, sans-serif">
<rect x="155.2" y="106.5" width="33.7" height="25.5" fill="#dadafc" stroke="#4a4a55" stroke-width="0.9"/>
<rect x="158.2" y="113.3" width="26.7" height="11" fill="#d2d2f6" stroke="#333" stroke-width="0.9"/>
<line x1="164.16" y1="124.3" x2="164.16" y2="131" stroke="#777" stroke-width="0.7"/>
<path d="M162.36,129 L164.16,131.2 L165.96,129" fill="none" stroke="#444" stroke-width="0.8"/>
<path d="M161.56,132.3 Q164.16,135 166.76,132.3" fill="none" stroke="#777" stroke-width="0.8"/>
<line x1="172.08" y1="124.3" x2="172.08" y2="131" stroke="#777" stroke-width="0.7"/>
<path d="M170.28,129 L172.08,131.2 L173.88,129" fill="none" stroke="#444" stroke-width="0.8"/>
<path d="M169.48,132.3 Q172.08,135 174.68,132.3" fill="none" stroke="#777" stroke-width="0.8"/>
<line x1="180" y1="124.3" x2="180" y2="131" stroke="#777" stroke-width="0.7"/>
<path d="M178.2,129 L180,131.2 L181.8,129" fill="none" stroke="#444" stroke-width="0.8"/>
<path d="M177.4,132.3 Q180,135 182.6,132.3" fill="none" stroke="#777" stroke-width="0.8"/>
<rect x="234.5" y="106.5" width="33.9" height="25.5" fill="#dadafc" stroke="#4a4a55" stroke-width="0.9"/>
<rect x="237.5" y="113.3" width="26.9" height="11" fill="#d2d2f6" stroke="#333" stroke-width="0.9"/>
<line x1="243.36" y1="124.3" x2="243.36" y2="131" stroke="#777" stroke-width="0.7"/>
<path d="M241.56,129 L243.36,131.2 L245.16,129" fill="none" stroke="#444" stroke-width="0.8"/>
<path d="M240.76,132.3 Q243.36,135 245.96,132.3" fill="none" stroke="#777" stroke-width="0.8"/>
<line x1="251.28" y1="124.3" x2="251.28" y2="131" stroke="#777" stroke-width="0.7"/>
<path d="M249.48,129 L251.28,131.2 L253.08,129" fill="none" stroke="#444" stroke-width="0.8"/>
<path d="M248.68,132.3 Q251.28,135 253.88,132.3" fill="none" stroke="#777" stroke-width="0.8"/>
<line x1="259.2" y1="124.3" x2="259.2" y2="131" stroke="#777" stroke-width="0.7"/>
<path d="M257.4,129 L259.2,131.2 L261,129" fill="none" stroke="#444" stroke-width="0.8"/>
<path d="M256.6,132.3 Q259.2,135 261.8,132.3" fill="none" stroke="#777" stroke-width="0.8"/>
<text x="152" y="110" font-size="4.8" text-anchor="end" fill="#646068">CAMSHAFT</text>
<text x="152" y="116.05" font-size="4.8" text-anchor="end" fill="#646068">POSITION</text>
<text x="152" y="122.1" font-size="4.8" text-anchor="end" fill="#646068">(CMP)</text>
<text x="152" y="128.15" font-size="4.8" text-anchor="end" fill="#646068">SENSOR</text>
<text x="152" y="134.2" font-size="4.8" text-anchor="end" fill="#646068">(ON RIGHT</text>
<text x="152" y="140.25" font-size="4.8" text-anchor="end" fill="#646068">FRONT OF</text>
<text x="152" y="146.3" font-size="4.8" text-anchor="end" fill="#646068">ENGINE)</text>
<text x="232.6" y="110" font-size="4.8" text-anchor="end" fill="#646068">CRANKSHAFT</text>
<text x="232.6" y="116.05" font-size="4.8" text-anchor="end" fill="#646068">POSITION</text>
<text x="232.6" y="122.1" font-size="4.8" text-anchor="end" fill="#646068">(CKP)</text>
<text x="232.6" y="128.15" font-size="4.8" text-anchor="end" fill="#646068">SENSOR</text>
<text x="232.6" y="134.2" font-size="4.8" text-anchor="end" fill="#646068">(TOP CENTER</text>
<text x="232.6" y="140.25" font-size="4.8" text-anchor="end" fill="#646068">OF ENGINE)</text>
<text transform="translate(161.56,137.2) rotate(-90)" font-size="4.8" text-anchor="end" fill="#646068">C</text>
<text transform="translate(161.56,145.1) rotate(-90)" font-size="4.8" text-anchor="end" fill="#646068">DK BLU/WHT</text>
<text transform="translate(169.48,137.2) rotate(-90)" font-size="4.8" text-anchor="end" fill="#646068">A</text>
<text transform="translate(169.48,145.1) rotate(-90)" font-size="4.8" text-anchor="end" fill="#646068">DK BLU</text>
<text transform="translate(177.4,137.2) rotate(-90)" font-size="4.8" text-anchor="end" fill="#646068">B</text>
<text transform="translate(177.4,145.1) rotate(-90)" font-size="4.8" text-anchor="end" fill="#646068">BRN</text>
<text transform="translate(240.76,137.2) rotate(-90)" font-size="4.8" text-anchor="end" fill="#646068">C</text>
<text transform="translate(240.76,145.1) rotate(-90)" font-size="4.8" text-anchor="end" fill="#646068">WHT/BLK</text>
<text transform="translate(248.68,137.2) rotate(-90)" font-size="4.8" text-anchor="end" fill="#646068">A</text>
<text transform="translate(248.68,145.1) rotate(-90)" font-size="4.8" text-anchor="end" fill="#646068">PPL/WHT</text>
<text transform="translate(256.6,137.2) rotate(-90)" font-size="4.8" text-anchor="end" fill="#646068">B</text>
<text transform="translate(256.6,145.1) rotate(-90)" font-size="4.8" text-anchor="end" fill="#646068">GRY/BLK</text>
<path d="M169.28,178 Q171.28,179.8 172.08,180.2 Q172.88,179.8 174.88,178" fill="none" stroke="#555" stroke-width="0.8"/>
<path d="M169.28,181.2 Q172.08,184 174.88,181.2" fill="none" stroke="#777" stroke-width="0.8"/>
<path d="M248.48,178 Q250.48,179.8 251.28,180.2 Q252.08,179.8 254.08,178" fill="none" stroke="#555" stroke-width="0.8"/>
<path d="M248.48,181.2 Q251.28,184 254.08,181.2" fill="none" stroke="#777" stroke-width="0.8"/>
<text transform="translate(169.68,188.5) rotate(-90)" font-size="4.8" text-anchor="end" fill="#646068">PNK/WHT</text>
<text transform="translate(248.88,188.5) rotate(-90)" font-size="4.8" text-anchor="end" fill="#646068">RED/GRY</text>
<rect x="278.2" y="107.2" width="32.5" height="25.2" fill="#dadafc" stroke="#4a4a55" stroke-width="0.9"/>
<path d="M282.96,132.4 V119.3 H290.64 M306.72,132.4 V119.3 H299.04" fill="none" stroke="#555" stroke-width="0.8"/>
<path d="M290.64,115.6 V123.2 M299.04,115.6 V123.2" fill="none" stroke="#333" stroke-width="0.9"/>
<rect x="292.74" y="115.4" width="4.2" height="8" fill="#111"/>
<line x1="282.96" y1="132.4" x2="282.96" y2="155.8" stroke="#5a5a5a" stroke-width="1.8"/>
<path d="M280.16,153.7 Q282.16,155.5 282.96,155.9 Q283.76,155.5 285.76,153.7" fill="none" stroke="#555" stroke-width="0.8"/>
<path d="M280.16,156.9 Q282.96,159.7 285.76,156.9" fill="none" stroke="#777" stroke-width="0.8"/>
<text transform="translate(280.56,150.5) rotate(-90)" font-size="4.8" text-anchor="start" fill="#646068">NCA</text>
<line x1="306.72" y1="132.4" x2="306.72" y2="155.8" stroke="#5a5a5a" stroke-width="1.8"/>
<path d="M303.92,153.7 Q305.92,155.5 306.72,155.9 Q307.52,155.5 309.52,153.7" fill="none" stroke="#555" stroke-width="0.8"/>
<path d="M303.92,156.9 Q306.72,159.7 309.52,156.9" fill="none" stroke="#777" stroke-width="0.8"/>
<text transform="translate(304.32,150.5) rotate(-90)" font-size="4.8" text-anchor="start" fill="#646068">NCA</text>
<rect x="349.6" y="107.2" width="32.5" height="25.2" fill="#dadafc" stroke="#4a4a55" stroke-width="0.9"/>
<path d="M354.24,132.4 V119.3 H361.92 M378,132.4 V119.3 H370.32" fill="none" stroke="#555" stroke-width="0.8"/>
<path d="M361.92,115.6 V123.2 M370.32,115.6 V123.2" fill="none" stroke="#333" stroke-width="0.9"/>
<rect x="364.02" y="115.4" width="4.2" height="8" fill="#111"/>
<line x1="354.24" y1="132.4" x2="354.24" y2="155.8" stroke="#5a5a5a" stroke-width="1.8"/>
<path d="M351.44,153.7 Q353.44,155.5 354.24,155.9 Q355.04,155.5 357.04,153.7" fill="none" stroke="#555" stroke-width="0.8"/>
<path d="M351.44,156.9 Q354.24,159.7 357.04,156.9" fill="none" stroke="#777" stroke-width="0.8"/>
<text transform="translate(351.84,150.5) rotate(-90)" font-size="4.8" text-anchor="start" fill="#646068">NCA</text>
<line x1="378" y1="132.4" x2="378" y2="155.8" stroke="#5a5a5a" stroke-width="1.8"/>
<path d="M375.2,153.7 Q377.2,155.5 378,155.9 Q378.8,155.5 380.8,153.7" fill="none" stroke="#555" stroke-width="0.8"/>
<path d="M375.2,156.9 Q378,159.7 380.8,156.9" fill="none" stroke="#777" stroke-width="0.8"/>
<text transform="translate(375.6,150.5) rotate(-90)" font-size="4.8" text-anchor="start" fill="#646068">NCA</text>
<text x="312" y="110.6" font-size="4.8" text-anchor="start" fill="#646068">KNOCK</text>
<text x="312" y="116.65" font-size="4.8" text-anchor="start" fill="#646068">SENSOR</text>
<text x="312" y="122.7" font-size="4.8" text-anchor="start" fill="#646068">(KS) 1</text>
<text x="312" y="128.75" font-size="4.8" text-anchor="start" fill="#646068">(TOP RIGHT</text>
<text x="312" y="134.8" font-size="4.8" text-anchor="start" fill="#646068">SIDE OF</text>
<text x="312" y="140.85" font-size="4.8" text-anchor="start" fill="#646068">ENGINE)</text>
<text x="383.6" y="110.6" font-size="4.8" text-anchor="start" fill="#646068">KNOCK</text>
<text x="383.6" y="116.65" font-size="4.8" text-anchor="start" fill="#646068">SENSOR</text>
<text x="383.6" y="122.7" font-size="4.8" text-anchor="start" fill="#646068">(KS) 2</text>
<text x="383.6" y="128.75" font-size="4.8" text-anchor="start" fill="#646068">(TOP LEFT</text>
<text x="383.6" y="134.8" font-size="4.8" text-anchor="start" fill="#646068">SIDE OF</text>
<text x="383.6" y="140.85" font-size="4.8" text-anchor="start" fill="#646068">ENGINE)</text>
<text transform="translate(280.36,161.3) rotate(-90)" font-size="4.8" text-anchor="end" fill="#646068">B</text>
<text transform="translate(304.12,161.3) rotate(-90)" font-size="4.8" text-anchor="end" fill="#646068">A</text>
<text transform="translate(351.64,161.3) rotate(-90)" font-size="4.8" text-anchor="end" fill="#646068">B</text>
<text transform="translate(375.4,161.3) rotate(-90)" font-size="4.8" text-anchor="end" fill="#646068">A</text>
<text transform="translate(280.36,166.9) rotate(-90)" font-size="4.8" text-anchor="end" fill="#646068">GRY</text>
<text transform="translate(304.12,167.5) rotate(-90)" font-size="4.8" text-anchor="end" fill="#646068">DK BLU</text>
<text transform="translate(351.64,171.2) rotate(-90)" font-size="4.8" text-anchor="end" fill="#646068">GRY</text>
<text transform="translate(375.4,170.6) rotate(-90)" font-size="4.8" text-anchor="end" fill="#646068">LT BLU</text>
<path d="M280.16,178.2 Q282.16,180 282.96,180.4 Q283.76,180 285.76,178.2" fill="none" stroke="#555" stroke-width="0.8"/>
<path d="M280.16,181.4 Q282.96,184.2 285.76,181.4" fill="none" stroke="#777" stroke-width="0.8"/>
<path d="M375.2,193.8 Q377.2,195.6 378,196 Q378.8,195.6 380.8,193.8" fill="none" stroke="#555" stroke-width="0.8"/>
<path d="M375.2,197 Q378,199.8 380.8,197" fill="none" stroke="#777" stroke-width="0.8"/>
<text transform="translate(280.56,186.5) rotate(-90)" font-size="4.8" text-anchor="end" fill="#646068">WHT/GRY</text>
<rect x="42.2" y="643.5" width="31.8" height="46.8" fill="#dadafc" stroke="#4a4a55" stroke-width="0.9"/>
<rect x="46.2" y="660.5" width="5.4" height="26.4" fill="#d2d2f6" stroke="#555" stroke-width="0.8"/>
<path d="M73.5,650.25 H47 V658.18 H54 l1,-1.6 l1.2,3.2 l1.2,-3.2 l1.2,3.2 l1.2,-3.2 l1.2,3.2 l1,-1.6 H73.5" fill="none" stroke="#555" stroke-width="0.75"/>
<path d="M57.6,655.78 l6,5" fill="none" stroke="#222" stroke-width="0.8"/>
<line x1="51.6" y1="666.11" x2="73.5" y2="666.11" stroke="#555" stroke-width="0.75"/>
<line x1="51.6" y1="674.04" x2="73.5" y2="674.04" stroke="#555" stroke-width="0.75"/>
<line x1="51.6" y1="681.97" x2="73.5" y2="681.97" stroke="#555" stroke-width="0.75"/>
<path d="M71.8,648.65 L74,650.25 L71.8,651.85" fill="none" stroke="#333" stroke-width="0.8"/>
<path d="M75.4,647.45 Q78,650.25 75.4,653.05" fill="none" stroke="#666" stroke-width="0.8"/>
<text x="78.4" y="648.75" font-size="4.8" text-anchor="start" fill="#646068">E</text>
<text x="86.2" y="648.75" font-size="4.8" text-anchor="start" fill="#646068">TAN/DK BLU</text>
<path d="M71.8,656.58 L74,658.18 L71.8,659.78" fill="none" stroke="#333" stroke-width="0.8"/>
<path d="M75.4,655.38 Q78,658.18 75.4,660.98" fill="none" stroke="#666" stroke-width="0.8"/>
<text x="78.4" y="656.68" font-size="4.8" text-anchor="start" fill="#646068">D</text>
<text x="86.2" y="656.68" font-size="4.8" text-anchor="start" fill="#646068">TAN</text>
<path d="M71.8,664.51 L74,666.11 L71.8,667.71" fill="none" stroke="#333" stroke-width="0.8"/>
<path d="M75.4,663.31 Q78,666.11 75.4,668.91" fill="none" stroke="#666" stroke-width="0.8"/>
<text x="78.4" y="664.61" font-size="4.8" text-anchor="start" fill="#646068">C</text>
<text x="86.2" y="664.61" font-size="4.8" text-anchor="start" fill="#646068">BLK/WHT</text>
<path d="M71.8,672.44 L74,674.04 L71.8,675.64" fill="none" stroke="#333" stroke-width="0.8"/>
<path d="M75.4,671.24 Q78,674.04 75.4,676.84" fill="none" stroke="#666" stroke-width="0.8"/>
<text x="78.4" y="672.54" font-size="4.8" text-anchor="start" fill="#646068">B</text>
<text x="86.2" y="672.54" font-size="4.8" text-anchor="start" fill="#646068">PNK/BLK</text>
<path d="M71.8,680.37 L74,681.97 L71.8,683.57" fill="none" stroke="#333" stroke-width="0.8"/>
<path d="M75.4,679.17 Q78,681.97 75.4,684.77" fill="none" stroke="#666" stroke-width="0.8"/>
<text x="78.4" y="680.47" font-size="4.8" text-anchor="start" fill="#646068">A</text>
<text x="86.2" y="680.47" font-size="4.8" text-anchor="start" fill="#646068">TAN/YEL</text>
<text x="42" y="696.5" font-size="4.8" text-anchor="start" fill="#646068">MASS AIR FLOW (MAF)/</text>
<text x="42" y="702.6" font-size="4.8" text-anchor="start" fill="#646068">INTAKE AIR TEMPERATURE</text>
<text x="42" y="708.7" font-size="4.8" text-anchor="start" fill="#646068">(IAT) SENSOR</text>
<text x="42" y="717" font-size="4.8" text-anchor="start" fill="#646068">(LEFT SIDE OF ENGINE</text>
<text x="42" y="723" font-size="4.8" text-anchor="start" fill="#646068">COMPARTMENT, IN AIR</text>
<text x="42" y="729" font-size="4.8" text-anchor="start" fill="#646068">INTAKE TUBE)</text>
<path d="M48.6,618.53 H99.5" fill="none" stroke="#444" stroke-width="1" stroke-dasharray="4,2.3"/>
<circle cx="101" cy="618.53" r="1.15" fill="#111"/>
<circle cx="45.3" cy="618.53" r="1.2" fill="#111"/>
<path d="M44.6,615.53 V621.53 L41,618.53 Z" fill="#8a8a8a" stroke="#777" stroke-width="0.5"/>
<text x="53.4" y="616.2" font-size="4.8" text-anchor="start" fill="#646068">BLK/WHT</text>
<text x="41.8" y="626.6" font-size="4.8" text-anchor="start" fill="#646068">G112</text>
<text x="41.8" y="632.4" font-size="4.8" text-anchor="start" fill="#646068">(LOWER LEFT REAR</text>
<text x="41.8" y="638.2" font-size="4.8" text-anchor="start" fill="#646068">OF ENGINE)</text>
<text x="94.3" y="626.6" font-size="4.8" text-anchor="start" fill="#646068">J105</text>
<rect x="124.5" y="755.3" width="68.1" height="25.2" fill="#dadafc" stroke="#4a4a55" stroke-width="0.9"/>
<path d="M132.48,755.3 V776.8 H156.24 V755.3" fill="none" stroke="#555" stroke-width="0.75"/>
<path d="M152.64,766.2 H159.84 M153.84,768.4 H158.64" fill="none" stroke="#222" stroke-width="0.9"/>
<path d="M153.24,772.5 L159.44,762.2 M159.44,762.2 l-2.2,0.6 M159.44,762.2 l-0.3,2.2" fill="none" stroke="#222" stroke-width="0.8"/>
<path d="M172.08,755.3 V764.5 h-2.2 v2.3 h4 v2.3 h-4 v2.3 h4 v2.2 h-1.8 V776.8 H187.92 V755.3" fill="none" stroke="#555" stroke-width="0.75"/>
<line x1="132.48" y1="739.5" x2="132.48" y2="755.3" stroke="#3c3c3c" stroke-width="1.5"/>
<path d="M129.68,737.9 Q132.48,735.1 135.28,737.9" fill="none" stroke="#777" stroke-width="0.8"/>
<path d="M129.68,741.1 Q131.68,739.3 132.48,738.9 Q133.28,739.3 135.28,741.1" fill="none" stroke="#555" stroke-width="0.8"/>
<text transform="translate(130.08,753.5) rotate(-90)" font-size="4.8" text-anchor="start" fill="#646068">NCA</text>
<line x1="156.24" y1="739.5" x2="156.24" y2="755.3" stroke="#3c3c3c" stroke-width="1.5"/>
<path d="M153.44,737.9 Q156.24,735.1 159.04,737.9" fill="none" stroke="#777" stroke-width="0.8"/>
<path d="M153.44,741.1 Q155.44,739.3 156.24,738.9 Q157.04,739.3 159.04,741.1" fill="none" stroke="#555" stroke-width="0.8"/>
<text transform="translate(153.84,753.5) rotate(-90)" font-size="4.8" text-anchor="start" fill="#646068">NCA</text>
<line x1="172.08" y1="739.5" x2="172.08" y2="755.3" stroke="#3c3c3c" stroke-width="1.5"/>
<path d="M169.28,737.9 Q172.08,735.1 174.88,737.9" fill="none" stroke="#777" stroke-width="0.8"/>
<path d="M169.28,741.1 Q171.28,739.3 172.08,738.9 Q172.88,739.3 174.88,741.1" fill="none" stroke="#555" stroke-width="0.8"/>
<text transform="translate(169.68,753.5) rotate(-90)" font-size="4.8" text-anchor="start" fill="#646068">NCA</text>
<line x1="187.92" y1="739.5" x2="187.92" y2="755.3" stroke="#3c3c3c" stroke-width="1.5"/>
<path d="M185.12,737.9 Q187.92,735.1 190.72,737.9" fill="none" stroke="#777" stroke-width="0.8"/>
<path d="M185.12,741.1 Q187.12,739.3 187.92,738.9 Q188.72,739.3 190.72,741.1" fill="none" stroke="#555" stroke-width="0.8"/>
<text transform="translate(185.52,753.5) rotate(-90)" font-size="4.8" text-anchor="start" fill="#646068">NCA</text>
<rect x="203.6" y="755.3" width="67.6" height="25.2" fill="#dadafc" stroke="#4a4a55" stroke-width="0.9"/>
<path d="M211.68,755.3 V776.8 H235.44 V755.3" fill="none" stroke="#555" stroke-width="0.75"/>
<path d="M231.84,766.2 H239.04 M233.04,768.4 H237.84" fill="none" stroke="#222" stroke-width="0.9"/>
<path d="M232.44,772.5 L238.64,762.2 M238.64,762.2 l-2.2,0.6 M238.64,762.2 l-0.3,2.2" fill="none" stroke="#222" stroke-width="0.8"/>
<path d="M251.28,755.3 V764.5 h-2.2 v2.3 h4 v2.3 h-4 v2.3 h4 v2.2 h-1.8 V776.8 H267.12 V755.3" fill="none" stroke="#555" stroke-width="0.75"/>
<line x1="211.68" y1="739.5" x2="211.68" y2="755.3" stroke="#3c3c3c" stroke-width="1.5"/>
<path d="M208.88,737.9 Q211.68,735.1 214.48,737.9" fill="none" stroke="#777" stroke-width="0.8"/>
<path d="M208.88,741.1 Q210.88,739.3 211.68,738.9 Q212.48,739.3 214.48,741.1" fill="none" stroke="#555" stroke-width="0.8"/>
<text transform="translate(209.28,753.5) rotate(-90)" font-size="4.8" text-anchor="start" fill="#646068">NCA</text>
<line x1="235.44" y1="739.5" x2="235.44" y2="755.3" stroke="#3c3c3c" stroke-width="1.5"/>
<path d="M232.64,737.9 Q235.44,735.1 238.24,737.9" fill="none" stroke="#777" stroke-width="0.8"/>
<path d="M232.64,741.1 Q234.64,739.3 235.44,738.9 Q236.24,739.3 238.24,741.1" fill="none" stroke="#555" stroke-width="0.8"/>
<text transform="translate(233.04,753.5) rotate(-90)" font-size="4.8" text-anchor="start" fill="#646068">NCA</text>
<line x1="251.28" y1="739.5" x2="251.28" y2="755.3" stroke="#3c3c3c" stroke-width="1.5"/>
<path d="M248.48,737.9 Q251.28,735.1 254.08,737.9" fill="none" stroke="#777" stroke-width="0.8"/>
<path d="M248.48,741.1 Q250.48,739.3 251.28,738.9 Q252.08,739.3 254.08,741.1" fill="none" stroke="#555" stroke-width="0.8"/>
<text transform="translate(248.88,753.5) rotate(-90)" font-size="4.8" text-anchor="start" fill="#646068">NCA</text>
<line x1="267.12" y1="739.5" x2="267.12" y2="755.3" stroke="#3c3c3c" stroke-width="1.5"/>
<path d="M264.32,737.9 Q267.12,735.1 269.92,737.9" fill="none" stroke="#777" stroke-width="0.8"/>
<path d="M264.32,741.1 Q266.32,739.3 267.12,738.9 Q267.92,739.3 269.92,741.1" fill="none" stroke="#555" stroke-width="0.8"/>
<text transform="translate(264.72,753.5) rotate(-90)" font-size="4.8" text-anchor="start" fill="#646068">NCA</text>
<text transform="translate(129.78,735.8) rotate(-90)" font-size="4.8" text-anchor="start" fill="#646068">A</text>
<text transform="translate(129.78,729) rotate(-90)" font-size="4.8" text-anchor="start" fill="#646068">TAN/ORG</text>
<text transform="translate(153.54,735.8) rotate(-90)" font-size="4.8" text-anchor="start" fill="#646068">B</text>
<text transform="translate(153.54,729) rotate(-90)" font-size="4.8" text-anchor="start" fill="#646068">DK GRN</text>
<text transform="translate(169.38,735.8) rotate(-90)" font-size="4.8" text-anchor="start" fill="#646068">D</text>
<text transform="translate(169.38,729) rotate(-90)" font-size="4.8" text-anchor="start" fill="#646068">PNK/BLK</text>
<text transform="translate(185.22,735.8) rotate(-90)" font-size="4.8" text-anchor="start" fill="#646068">C</text>
<text transform="translate(185.22,729) rotate(-90)" font-size="4.8" text-anchor="start" fill="#646068">WHT</text>
<text transform="translate(208.98,735.8) rotate(-90)" font-size="4.8" text-anchor="start" fill="#646068">B</text>
<text transform="translate(208.98,729) rotate(-90)" font-size="4.8" text-anchor="start" fill="#646068">PNK/ORG</text>
<text transform="translate(232.74,735.8) rotate(-90)" font-size="4.8" text-anchor="start" fill="#646068">A</text>
<text transform="translate(232.74,729) rotate(-90)" font-size="4.8" text-anchor="start" fill="#646068">TAN/PNK</text>
<text transform="translate(248.58,735.8) rotate(-90)" font-size="4.8" text-anchor="start" fill="#646068">D</text>
<text transform="translate(248.58,729) rotate(-90)" font-size="4.8" text-anchor="start" fill="#646068">PNK/BLK</text>
<text transform="translate(264.42,735.8) rotate(-90)" font-size="4.8" text-anchor="start" fill="#646068">C</text>
<text transform="translate(264.42,729) rotate(-90)" font-size="4.8" text-anchor="start" fill="#646068">GRY/WHT</text>
<text x="158.5" y="787.8" font-size="4.8" text-anchor="middle" fill="#646068">HEATED OXYGEN SENSOR</text>
<text x="158.5" y="793.8" font-size="4.8" text-anchor="middle" fill="#646068">(HO2S) BANK 1 SENSOR 1</text>
<text x="158.5" y="799.8" font-size="4.8" text-anchor="middle" fill="#646068">(ON RIGHT EXHAUST</text>
<text x="158.5" y="805.8" font-size="4.8" text-anchor="middle" fill="#646068">MANIFOLD)</text>
<text x="237.5" y="787.8" font-size="4.8" text-anchor="middle" fill="#646068">HEATED OXYGEN</text>
<text x="237.5" y="793.8" font-size="4.8" text-anchor="middle" fill="#646068">SENSOR (HO2S) 2</text>
<text x="237.5" y="799.8" font-size="4.8" text-anchor="middle" fill="#646068">(IN EXHAUST, AFTER</text>
<text x="237.5" y="805.8" font-size="4.8" text-anchor="middle" fill="#646068">CATALYTIC CONVERTER)</text>
<text x="41.2" y="804.8" font-size="4.8" text-anchor="start" fill="#646068">279636</text>
<rect x="304.3" y="756.3" width="90.5" height="28.5" fill="#dadafc" stroke="#4a4a55" stroke-width="0.9"/>
<circle cx="322.56" cy="768.6" r="4.6" fill="#d6d6f6" stroke="#333" stroke-width="0.8"/>
<text x="322.56" y="770.6" font-size="5.6" text-anchor="middle" fill="#333">M</text>
<path d="M322.56,756.3 V764 M322.56,773.2 V779.5 H314.64 V756.3" fill="none" stroke="#555" stroke-width="0.75"/>
<path d="M338.4,756.3 V771 H352.74" fill="none" stroke="#555" stroke-width="0.75"/>
<path d="M354.24,756.3 V760 H370.24 V762.5 M354.24,760 V762.5 l-1.6,1.2 l3.2,2.2 l-3.2,2.2 l3.2,2.2 l-3.2,2.2 l3.2,2.2 l-1.6,1.2 V779.5 H370.24 V777 M370.24,762.5 l-1.6,1.2 l3.2,2.2 l-3.2,2.2 l3.2,2.2 l-3.2,2.2 l3.2,2.2 l-1.6,1.2" fill="none" stroke="#555" stroke-width="0.75"/>
<path d="M362.16,756.3 V779.5" fill="none" stroke="#555" stroke-width="0.75"/>
<path d="M385.92,756.3 V771 H371.74" fill="none" stroke="#555" stroke-width="0.75"/>
<circle cx="343" cy="771" r="0.9" fill="#111"/>
<circle cx="354.24" cy="760" r="0.9" fill="#111"/>
<circle cx="362.16" cy="779.5" r="0.9" fill="#111"/>
<circle cx="381.72" cy="771" r="0.9" fill="#111"/>
<path d="M354.44,771 l-1.6,-1 M354.44,771 l-1.6,1 M370.04,771 l1.6,-1 M370.04,771 l1.6,1" fill="none" stroke="#222" stroke-width="0.8"/>
<path d="M312.64,755.8 L314.64,753.6 L316.64,755.8" fill="none" stroke="#444" stroke-width="0.8"/>
<path d="M312.04,754.6 Q314.64,751.8 317.24,754.6" fill="none" stroke="#777" stroke-width="0.8"/>
<text transform="translate(311.94,751.6) rotate(-90)" font-size="4.8" text-anchor="start" fill="#646068">B</text>
<text transform="translate(311.94,743.8) rotate(-90)" font-size="4.8" text-anchor="start" fill="#646068">YEL</text>
<path d="M320.56,755.8 L322.56,753.6 L324.56,755.8" fill="none" stroke="#444" stroke-width="0.8"/>
<path d="M319.96,754.6 Q322.56,751.8 325.16,754.6" fill="none" stroke="#777" stroke-width="0.8"/>
<text transform="translate(319.86,751.6) rotate(-90)" font-size="4.8" text-anchor="start" fill="#646068">A</text>
<text transform="translate(319.86,743.8) rotate(-90)" font-size="4.8" text-anchor="start" fill="#646068">ORG/PNK</text>
<path d="M336.4,755.8 L338.4,753.6 L340.4,755.8" fill="none" stroke="#444" stroke-width="0.8"/>
<path d="M335.8,754.6 Q338.4,751.8 341,754.6" fill="none" stroke="#777" stroke-width="0.8"/>
<text transform="translate(335.7,751.6) rotate(-90)" font-size="4.8" text-anchor="start" fill="#646068">D</text>
<text transform="translate(335.7,743.8) rotate(-90)" font-size="4.8" text-anchor="start" fill="#646068">DK GRN</text>
<path d="M352.24,755.8 L354.24,753.6 L356.24,755.8" fill="none" stroke="#444" stroke-width="0.8"/>
<path d="M351.64,754.6 Q354.24,751.8 356.84,754.6" fill="none" stroke="#777" stroke-width="0.8"/>
<text transform="translate(351.54,751.6) rotate(-90)" font-size="4.8" text-anchor="start" fill="#646068">E</text>
<text transform="translate(351.54,743.8) rotate(-90)" font-size="4.8" text-anchor="start" fill="#646068">PNK/RED</text>
<path d="M360.16,755.8 L362.16,753.6 L364.16,755.8" fill="none" stroke="#444" stroke-width="0.8"/>
<path d="M359.56,754.6 Q362.16,751.8 364.76,754.6" fill="none" stroke="#777" stroke-width="0.8"/>
<text transform="translate(359.46,751.6) rotate(-90)" font-size="4.8" text-anchor="start" fill="#646068">C</text>
<text transform="translate(359.46,743.8) rotate(-90)" font-size="4.8" text-anchor="start" fill="#646068">RED/YEL</text>
<path d="M383.92,755.8 L385.92,753.6 L387.92,755.8" fill="none" stroke="#444" stroke-width="0.8"/>
<path d="M383.32,754.6 Q385.92,751.8 388.52,754.6" fill="none" stroke="#777" stroke-width="0.8"/>
<text transform="translate(383.22,751.6) rotate(-90)" font-size="4.8" text-anchor="start" fill="#646068">F</text>
<text transform="translate(383.22,743.8) rotate(-90)" font-size="4.8" text-anchor="start" fill="#646068">PPL</text>
<text x="350.2" y="790.8" font-size="4.8" text-anchor="middle" fill="#646068">THROTTLE BODY ASSEMBLY</text>
<path d="M449.28,756.6 V783" fill="none" stroke="#444" stroke-width="1" stroke-dasharray="4,2.4"/>
<circle cx="449.28" cy="752.8" r="1.15" fill="#111"/>
<circle cx="449.28" cy="784.6" r="1.15" fill="#111"/>
<path d="M446.28,785.6 H452.28 L449.28,789.2 Z" fill="#8a8a8a" stroke="#777" stroke-width="0.5"/>
<text x="452.88" y="755" font-size="4.8" text-anchor="start" fill="#646068">J105</text>
<text x="447.98" y="764.7" font-size="4.8" text-anchor="end" fill="#646068">BLK/</text>
<text x="447.98" y="770.8" font-size="4.8" text-anchor="end" fill="#646068">WHT</text>
<text x="449.28" y="793.6" font-size="4.8" text-anchor="middle" fill="#646068">G112</text>
<text x="449.28" y="799.4" font-size="4.8" text-anchor="middle" fill="#646068">(LOWER LEFT REAR</text>
<text x="449.28" y="805.2" font-size="4.8" text-anchor="middle" fill="#646068">OF ENGINE)</text>
</g>
</svg>
</body></html>
